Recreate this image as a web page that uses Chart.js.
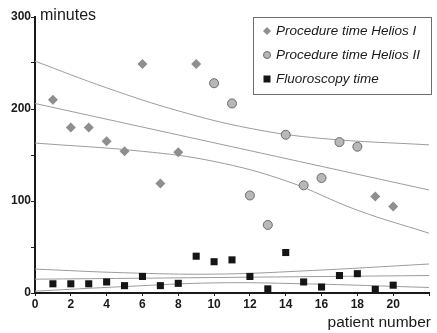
<!DOCTYPE html>
<html>
<head>
<meta charset="utf-8">
<script src="https://cdn.jsdelivr.net/npm/chart.js@4.4.1/dist/chart.umd.min.js"></script>
<style>
  html, body { margin: 0; padding: 0; background: #ffffff; }
  #wrap { width: 437px; height: 333px; position: relative; }
</style>
</head>
<body>
<div id="wrap"><canvas id="c" width="437" height="333"></canvas></div>
<script>
// ---- data ----
const helios1Patients = [1, 2, 3, 4, 5, 6, 7, 8, 9, 19, 20];
const helios1Minutes  = [210, 180, 180, 165, 154, 249, 119, 153, 249, 105, 94];

const helios2Patients = [10, 11, 12, 13, 14, 15, 16, 17, 18];
const helios2Minutes  = [228, 206, 106, 74, 172, 117, 125, 164, 159];

const fluoroPatients = [1, 2, 3, 4, 5, 6, 7, 8, 9, 10, 11, 12, 13, 14, 15, 16, 17, 18, 19, 20];
const fluoroMinutes  = [10, 10, 10, 12, 8, 18, 8, 10.5, 40, 34, 36, 18, 4.5, 44, 12, 6.5, 19, 21, 4, 8.5];

// regression line and confidence bands (procedure time)
const procUpperX = [0, 4, 8, 12, 16, 22];
const procUpperY = [252, 223, 198, 179, 168, 161];
const procMidX   = [0, 22];
const procMidY   = [206, 112];
const procLowerX = [0, 6, 10, 14, 18, 22];
const procLowerY = [163, 154, 143, 122, 90, 65];

// regression line and confidence bands (fluoroscopy time)
const fluoUpperX = [0, 5, 10, 15, 22];
const fluoUpperY = [26, 22, 20.5, 24, 31.5];
const fluoMidX   = [0, 22];
const fluoMidY   = [15, 19];
const fluoLowerX = [0, 5, 10, 15, 22];
const fluoLowerY = [2, 7, 11, 10, 6];

const xTickLabels = ['0', '2', '4', '6', '8', '10', '12', '14', '16', '18', '20'];
const yTickLabels = ['0', '100', '200', '300'];

const legendLabels = ['Procedure time Helios I', 'Procedure time Helios II', 'Fluoroscopy time'];
const xTitle = 'patient number';
const yTitle = 'minutes';

// ---- build datasets ----
const zip = (xs, ys) => xs.map((x, i) => ({ x: x, y: ys[i] }));

function bandLine(xs, ys) {
  return {
    type: 'line',
    data: zip(xs, ys),
    borderColor: '#9c9c9c',
    borderWidth: 1,
    pointRadius: 0,
    fill: false,
    tension: 0.4,
    showLine: true
  };
}

const datasets = [
  {
    label: legendLabels[2],
    data: zip(fluoroPatients, fluoroMinutes),
    pointStyle: 'rect',
    pointRadius: 5,
    backgroundColor: '#151515',
    borderColor: '#151515',
    borderWidth: 0
  },
  {
    label: legendLabels[1],
    data: zip(helios2Patients, helios2Minutes),
    pointStyle: 'circle',
    pointRadius: 4.5,
    backgroundColor: '#b8b8b8',
    borderColor: '#6a6a6a',
    borderWidth: 1
  },
  {
    label: legendLabels[0],
    data: zip(helios1Patients, helios1Minutes),
    pointStyle: 'rectRot',
    pointRadius: 5,
    backgroundColor: '#8e8e8e',
    borderColor: '#8e8e8e',
    borderWidth: 0
  },
  bandLine(procUpperX, procUpperY),
  bandLine(procMidX, procMidY),
  bandLine(procLowerX, procLowerY),
  bandLine(fluoUpperX, fluoUpperY),
  bandLine(fluoMidX, fluoMidY),
  bandLine(fluoLowerX, fluoLowerY)
];

function drawMarker(ctx, style, x, y) {
  if (style === 'circle') {
    ctx.arc(x, y, 3.5, 0, Math.PI * 2);
  } else if (style === 'rect') {
    ctx.rect(x - 3.5, y - 3.5, 7, 7);
  } else {
    ctx.moveTo(x, y - 4);
    ctx.lineTo(x + 4, y);
    ctx.lineTo(x, y + 4);
    ctx.lineTo(x - 4, y);
    ctx.closePath();
  }
}

// ---- custom decorations: axis titles and legend box ----
const decor = {
  id: 'decor',
  afterDraw(chart) {
    const ctx = chart.ctx;
    ctx.save();
    ctx.fillStyle = '#1a1a1a';
    ctx.textBaseline = 'middle';
    // y title
    ctx.font = '16px "Liberation Sans", Arial, sans-serif';
    ctx.textAlign = 'left';
    ctx.fillText(yTitle, 40, 16);
    // x title
    ctx.font = '15.5px "Liberation Sans", Arial, sans-serif';
    ctx.textAlign = 'right';
    ctx.fillText(xTitle, 431, 323);

    // legend box
    const bx = 253.5, by = 17.5, bw = 178, bh = 77;
    ctx.fillStyle = '#ffffff';
    ctx.fillRect(bx, by, bw, bh);
    ctx.strokeStyle = '#6e6e6e';
    ctx.lineWidth = 1;
    ctx.strokeRect(bx, by, bw, bh);

    const rows = [31, 55, 79];
    const order = [2, 1, 0]; // dataset index for each legend row
    ctx.font = 'italic 13.5px "Liberation Sans", Arial, sans-serif';
    ctx.textAlign = 'left';
    rows.forEach((ry, i) => {
      const ds = chart.data.datasets[order[i]];
      ctx.fillStyle = ds.backgroundColor;
      ctx.strokeStyle = ds.borderColor;
      ctx.lineWidth = ds.borderWidth || 1;
      ctx.beginPath();
      drawMarker(ctx, ds.pointStyle, 267, ry);
      ctx.fill();
      if (ds.borderWidth) ctx.stroke();
      ctx.fillStyle = '#1a1a1a';
      ctx.fillText(ds.label, 276, ry + 0.5);
    });
    ctx.restore();
  }
};

const tickFont = { family: '"Liberation Sans", Arial, sans-serif', size: 12, weight: 'bold' };

new Chart(document.getElementById('c'), {
  type: 'scatter',
  data: { datasets: datasets },
  options: {
    responsive: false,
    animation: false,
    devicePixelRatio: 1,
    layout: { padding: { left: 0, right: 8, top: 17, bottom: 0 } },
    plugins: {
      legend: { display: false },
      tooltip: { enabled: false }
    },
    scales: {
      x: {
        type: 'linear',
        min: 0,
        max: 22,
        afterFit(scale) { scale.height = 40; },
        afterBuildTicks(scale) {
          const t = [];
          for (let v = 0; v <= 22; v += 2) t.push({ value: v });
          scale.ticks = t;
        },
        ticks: {
          color: '#1a1a1a',
          font: tickFont,
          padding: 1,
          maxRotation: 0,
          autoSkip: false,
          callback(v) {
            const s = String(v);
            return xTickLabels.includes(s) ? s : '';
          }
        },
        grid: {
          drawOnChartArea: false,
          drawTicks: true,
          tickLength: 3,
          color: '#1a1a1a',
          lineWidth: 1
        },
        border: { display: true, color: '#1a1a1a', width: 2 }
      },
      y: {
        type: 'linear',
        min: 0,
        max: 300,
        afterFit(scale) { scale.width = 35; },
        afterBuildTicks(scale) {
          const t = [];
          for (let v = 0; v <= 300; v += 50) t.push({ value: v });
          scale.ticks = t;
        },
        ticks: {
          color: '#1a1a1a',
          font: tickFont,
          padding: 0,
          autoSkip: false,
          callback(v) {
            const s = String(v);
            return yTickLabels.includes(s) ? s : '';
          }
        },
        grid: {
          drawOnChartArea: false,
          drawTicks: true,
          tickLength: 4,
          color: '#1a1a1a',
          lineWidth: 1
        },
        border: { display: true, color: '#1a1a1a', width: 2 }
      }
    }
  },
  plugins: [decor]
});
</script>
</body>
</html>
